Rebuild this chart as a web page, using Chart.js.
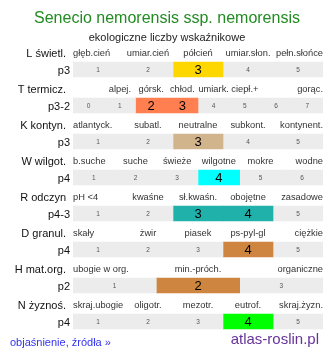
<!DOCTYPE html>
<html lang="pl">
<head>
<meta charset="UTF-8">
<title>Senecio nemorensis ssp. nemorensis</title>
<script src="https://cdn.jsdelivr.net/npm/chart.js"></script>
<style>
  body { margin: 0; background: #fff; font-family: "Liberation Sans", Arial, sans-serif; }
  #wrap { position: relative; width: 334px; height: 358px; overflow: hidden; }
  #wykres { position: absolute; left: 0; top: 0; }
  .txt { position: absolute; white-space: nowrap; }
  #tytul { left: 0; width: 334px; text-align: center; top: 9px; font-size: 16px; color: #228b22; }
  #podtytul { left: 0; width: 334px; text-align: center; top: 31px; font-size: 11px; color: #222; }
  #link { left: 10px; top: 336px; font-size: 11px; color: #3333ee; }
  #atlas { right: 15px; top: 330px; font-size: 15px; color: #663399; }
</style>
</head>
<body>
<div id="wrap">
  <canvas id="wykres" width="334" height="358"></canvas>
  <div class="txt" id="tytul">Senecio nemorensis ssp. nemorensis</div>
  <div class="txt" id="podtytul">ekologiczne liczby wskaźnikowe</div>
  <div class="txt" id="link">objaśnienie, źródła »</div>
  <div class="txt" id="atlas">atlas-roslin.pl</div>
</div>

<script>
// nazwy wskaźników i kody
var wskazniki = ['L świetl.', 'T termicz.', 'K kontyn.', 'W wilgot.', 'R odczyn', 'D granul.', 'H mat.org.', 'N żyznoś.'];
var kody = ['p3', 'p3-2', 'p3', 'p4', 'p4-3', 'p4', 'p2', 'p4'];

// numery klas w kazdym wierszu
var numeryL = [1, 2, 3, 4, 5];
var numeryT = [0, 1, 2, 3, 4, 5, 6, 7];
var numeryK = [1, 2, 3, 4, 5];
var numeryW = [1, 2, 3, 4, 5, 6];
var numeryR = [1, 2, 3, 4, 5];
var numeryD = [1, 2, 3, 4, 5];
var numeryH = [1, 2, 3];
var numeryN = [1, 2, 3, 4, 5];

// opisy klas
var opisyL = ['głęb.cień', 'umiar.cień', 'półcień', 'umiar.słon.', 'pełn.słońce'];
var opisyT = ['', 'alpej.', 'górsk.', 'chłod.', 'umiark.', 'ciepł.+', '', 'gorąc.'];
var opisyK = ['atlantyck.', 'subatl.', 'neutralne', 'subkont.', 'kontynent.'];
var opisyW = ['b.suche', 'suche', 'świeże', 'wilgotne', 'mokre', 'wodne'];
var opisyR = ['pH <4', 'kwaśne', 'sł.kwaśn.', 'obojętne', 'zasadowe'];
var opisyD = ['skały', 'żwir', 'piasek', 'ps-pyl-gl', 'ciężkie'];
var opisyH = ['ubogie w org.', 'min.-próch.', 'organiczne'];
var opisyN = ['skraj.ubogie', 'oligotr.', 'mezotr.', 'eutrof.', 'skraj.żyzn.'];

// wartosci wskaznikow dla gatunku
var wartosciL = [3];
var wartosciT = [2, 3];
var wartosciK = [3];
var wartosciW = [4];
var wartosciR = [3, 4];
var wartosciD = [4];
var wartosciH = [2];
var wartosciN = [4];

var kolory = ['#ffd700', '#ff7f50', '#d2b48c', '#00ffff', '#20b2aa', '#cd853f', '#cd853f', '#00ff00'];
var szary = '#ececec';

var numery = [numeryL, numeryT, numeryK, numeryW, numeryR, numeryD, numeryH, numeryN];
var opisy = [opisyL, opisyT, opisyK, opisyW, opisyR, opisyD, opisyH, opisyN];
var wartosci = [wartosciL, wartosciT, wartosciK, wartosciW, wartosciR, wartosciD, wartosciH, wartosciN];

// jeden zestaw danych na kazda kolumne klas (max 8)
var datasets = [];
for (var k = 0; k < 8; k++) {
    var dane = [];
    var tla = [];
    for (var i = 0; i < numery.length; i++) {
        if (k < numery[i].length) {
            dane.push(1 / numery[i].length);
            tla.push(wartosci[i].indexOf(numery[i][k]) >= 0 ? kolory[i] : szary);
        } else {
            dane.push(null);
            tla.push(szary);
        }
    }
    datasets.push({ data: dane, backgroundColor: tla, borderWidth: 0, barThickness: 15 });
}

var opisyPlugin = {
    id: 'opisy',
    afterDatasetsDraw: function (chart) {
        var ctx = chart.ctx;
        var y = chart.scales.y;
        var area = chart.chartArea;
        ctx.save();
        ctx.textBaseline = 'middle';
        for (var i = 0; i < wskazniki.length; i++) {
            var yc = y.getPixelForValue(i);
            var yl = yc - 16;

            ctx.fillStyle = '#111';
            ctx.font = '11px "Liberation Sans", Arial, sans-serif';
            ctx.textAlign = 'right';
            ctx.fillText(wskazniki[i], 66, yl);
            ctx.fillText(kody[i], 70, yc + 1);

            var n = numery[i].length;
            for (var k = 0; k < n; k++) {
                var el = chart.getDatasetMeta(k).data[i];
                var x0 = Math.min(el.x, el.base);
                var x1 = Math.max(el.x, el.base);
                var xc = (x0 + x1) / 2;

                // opis nad komorka
                var op = opisy[i][k];
                if (op) {
                    ctx.font = '9.3px "Liberation Sans", Arial, sans-serif';
                    ctx.fillStyle = '#333';
                    var w = ctx.measureText(op).width;
                    ctx.textAlign = 'left';
                    var xs = xc - w / 2;
                    if (k === 0) xs = area.left;
                    if (k === n - 1) xs = area.right - w;
                    ctx.fillText(op, xs, yl);
                }

                // numer w komorce
                ctx.textAlign = 'center';
                if (wartosci[i].indexOf(numery[i][k]) >= 0) {
                    ctx.font = '13px "Liberation Sans", Arial, sans-serif';
                    ctx.fillStyle = '#000';
                    ctx.fillText(String(numery[i][k]), xc, yc + 0.5);
                } else {
                    ctx.font = '6.5px "Liberation Sans", Arial, sans-serif';
                    ctx.fillStyle = '#555';
                    ctx.fillText(String(numery[i][k]), xc, yc + 0.5);
                }
            }
        }
        ctx.restore();
    }
};

var ctx = document.getElementById('wykres').getContext('2d');
var wykres = new Chart(ctx, {
    type: 'bar',
    data: { labels: wskazniki, datasets: datasets },
    options: {
        indexAxis: 'y',
        responsive: false,
        animation: false,
        layout: { padding: { top: 51.5, bottom: 18.5, left: 73, right: 11 } },
        plugins: { legend: { display: false }, tooltip: { enabled: false }, title: { display: false } },
        scales: {
            x: { stacked: true, min: 0, max: 1, display: false },
            y: { stacked: true, display: false }
        }
    },
    plugins: [opisyPlugin]
});
</script>
</body>
</html>
